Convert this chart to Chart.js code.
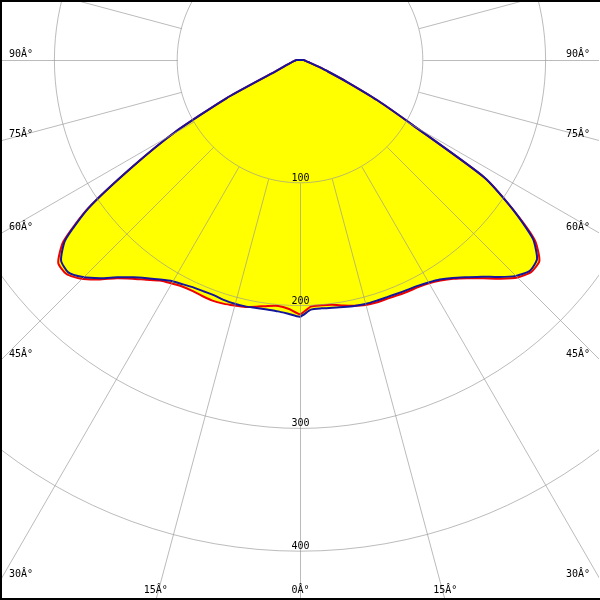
<!DOCTYPE html>
<html>
<head>
<meta charset="utf-8">
<title>Polar intensity curve</title>
<script src="https://cdn.jsdelivr.net/npm/chart.js@4/dist/chart.umd.min.js"></script>
<style>
  html, body { margin: 0; padding: 0; width: 600px; height: 600px; overflow: hidden; background: #fff; }
  #wrap { position: relative; width: 600px; height: 600px; overflow: hidden; background: #fff; }
  /* the pole sits at (300, 60) of the page, so the big canvas is shifted */
  #polar { position: absolute; left: -314px; top: -554px; }
</style>
</head>
<body>
<div id="wrap">
  <canvas id="polar" width="1228" height="1228"></canvas>
</div>
<script>
// --- 1. DATA ---

// gamma angles (deg from straight down) of the samples, each half plane
const gammaAngles = [0, 2.5, 5, 7.5, 10, 12.5, 15, 17.5, 20, 22.5, 25, 27.5, 30, 32.5, 35, 37.5,
    40, 42.5, 45, 47.5, 50, 52.5, 55, 57.5, 60, 62.5, 65, 67.5, 70, 72.5, 75, 77.5, 80, 82.5,
    85, 87.5, 90];

// blue curve (left half, right half)
const blueLeft = [209, 207, 205.5, 205, 205, 205.5, 205.5, 205, 204, 204, 204.5, 206, 208, 212,
    217, 223, 231, 241, 250, 256, 254, 241, 210, 161.5, 118, 68, 22, 15, 11, 8, 7, 6, 5, 4, 4, 3, 3];
const blueRight = [209, 203.5, 203, 203.5, 204.3, 205.2, 205.7, 205.7, 205.7, 206, 206.6, 207.4,
    209.2, 212, 216.7, 223, 230.3, 239.8, 248.6, 254, 252, 239, 211, 178, 106, 71, 42, 25, 16, 11,
    8, 6, 5, 4, 4, 3, 3];

// red curve (left half, right half)
const redLeft = [207, 203, 201, 202, 204, 206, 207, 208, 208.5, 208, 207.5, 208, 210, 213, 218.5,
    224.5, 232, 242.5, 252, 258, 257, 243, 211, 162, 118, 68, 22, 15, 11, 8, 7, 6, 5, 4, 4, 3, 3];
const redRight = [207, 201, 200.5, 201, 203, 205, 206.5, 207, 207, 207.5, 208, 208.5, 210, 213,
    217.5, 224, 232, 241.5, 250.5, 255.5, 254.5, 241, 211, 178, 106, 71, 42, 25, 16, 11, 8, 6, 5,
    4, 4, 3, 3];

// nothing is emitted upwards
const upwardValue = 0;

const radiusTicks = [100, 200, 300, 400];
const angleTicks = [0, 15, 30, 45, 60, 75, 90];
const spokeAngles = [0, 15, 30, 45, 60, 75, 90, 105, 120, 135, 150, 165, 180, 195, 210, 225,
    240, 255, 270, 285, 300, 315, 330, 345];

const STEP = 2.5;
const RING = 360 / STEP; // 144 samples round the circle

const GRID_COLOR = 'rgba(150, 150, 150, 0.65)';
const LABEL_FONT = '10px "DejaVu Sans Mono", "Liberation Mono", monospace';

// --- 2. BUILD THE RING (index 0 = straight down, clockwise: left half first) ---

const buildRing = (left, right) => {
    const ring = [];
    left.forEach(v => ring.push(v));                       // 0 .. 90 on the left
    for (let i = left.length; i < RING - (right.length - 1); i++) ring.push(upwardValue);
    for (let i = right.length - 1; i >= 1; i--) ring.push(right[i]); // 90 .. 2.5 on the right
    return ring;
};

const ringLabels = [];
gammaAngles.forEach(g => ringLabels.push(g));
for (let i = ringLabels.length; i < RING; i++) ringLabels.push(i * STEP);

// --- 3. FRAME PLUGIN: spokes from the 100 circle outwards, labels, border ---

const polarFrame = {
    id: 'polarFrame',
    afterDatasetsDraw(chart) {
        const s = chart.scales.r;
        const ctx = chart.ctx;
        const offX = -chart.canvas.offsetLeft;
        const offY = -chart.canvas.offsetTop;

        ctx.save();
        ctx.strokeStyle = GRID_COLOR;
        ctx.lineWidth = 1;
        spokeAngles.forEach(a => {
            const idx = Math.round(a / STEP) % RING;
            const p1 = s.getPointPositionForValue(idx, radiusTicks[0]);
            const p2 = s.getPointPosition(idx, 2000);
            ctx.beginPath();
            ctx.moveTo(p1.x + 0.5, p1.y + 0.5);
            ctx.lineTo(p2.x + 0.5, p2.y + 0.5);
            ctx.stroke();
        });

        ctx.font = LABEL_FONT;
        ctx.fillStyle = '#000';
        ctx.textBaseline = 'alphabetic';

        // radius labels sit just above each circle on the 0 deg line
        ctx.textAlign = 'center';
        radiusTicks.forEach(v => {
            const p = s.getPointPositionForValue(0, v);
            ctx.fillText(String(v), p.x + 0.5, p.y - 2);
        });

        // angle labels where the spokes leave the picture
        [-1, 1].forEach(side => {
            angleTicks.forEach(g => {
                if (g === 0 && side > 0) return;
                const idx = side < 0 ? Math.round(g / STEP) : (RING - Math.round(g / STEP)) % RING;
                const p = s.getPointPosition(idx, 1);
                const dx = p.x - s.xCenter;
                const dy = p.y - s.yCenter;
                const tX = dx < -1e-6 ? (offX - s.xCenter) / dx : dx > 1e-6 ? (offX + 600 - s.xCenter) / dx : Infinity;
                const tY = dy > 1e-6 ? (offY + 600 - s.yCenter) / dy : Infinity;
                const text = `${g}Â°`;
                if (tX < tY) {
                    const y = s.yCenter + dy * tX;
                    ctx.textAlign = dx < 0 ? 'left' : 'right';
                    ctx.fillText(text, dx < 0 ? offX + 9 : offX + 590, y - 3);
                } else {
                    const x = s.xCenter + dx * tY;
                    ctx.textAlign = 'center';
                    ctx.fillText(text, x + 0.5, offY + 593);
                }
            });
        });
        ctx.restore();
    },
    afterDraw(chart) {
        // black frame on the left, top and bottom of the visible part, none on the right
        const ctx = chart.ctx;
        const offX = -chart.canvas.offsetLeft;
        const offY = -chart.canvas.offsetTop;
        ctx.save();
        ctx.fillStyle = '#000';
        ctx.fillRect(offX, offY, 2, 600);
        ctx.fillRect(offX, offY, 600, 2);
        ctx.fillRect(offX, offY + 598, 600, 2);
        ctx.fillStyle = '#fff';
        ctx.fillRect(offX + 599, offY + 2, 1, 596);
        ctx.restore();
    }
};

// --- 4. CHART ---

const ctxPolar = document.getElementById('polar').getContext('2d');
new Chart(ctxPolar, {
    type: 'radar',
    data: {
        labels: ringLabels,
        datasets: [
            {
                label: 'C0-C180',
                data: buildRing(blueLeft, blueRight),
                borderColor: '#14149c',
                backgroundColor: '#ffff00',
                fill: 'origin'
            },
            {
                label: 'C90-C270',
                data: buildRing(redLeft, redRight),
                borderColor: '#ee0000',
                backgroundColor: '#ffff00',
                fill: 'origin'
            }
        ]
    },
    options: {
        responsive: false,
        animation: false,
        events: [],
        elements: {
            line: { borderWidth: 2, tension: 0.2 },
            point: { radius: 0, hoverRadius: 0 }
        },
        plugins: {
            legend: { display: false },
            tooltip: { enabled: false },
            filler: { drawTime: 'beforeDatasetsDraw' }
        },
        scales: {
            r: {
                min: 0,
                max: 500,
                startAngle: 180,
                ticks: { display: false, stepSize: 100 },
                pointLabels: { display: false },
                angleLines: { display: false },
                grid: {
                    z: 1,
                    lineWidth: 1,
                    color: (c) => (c.tick && c.tick.value > 0 && c.tick.value <= 400) ? GRID_COLOR : 'rgba(0,0,0,0)'
                }
            }
        }
    },
    plugins: [polarFrame]
});
</script>
</body>
</html>
